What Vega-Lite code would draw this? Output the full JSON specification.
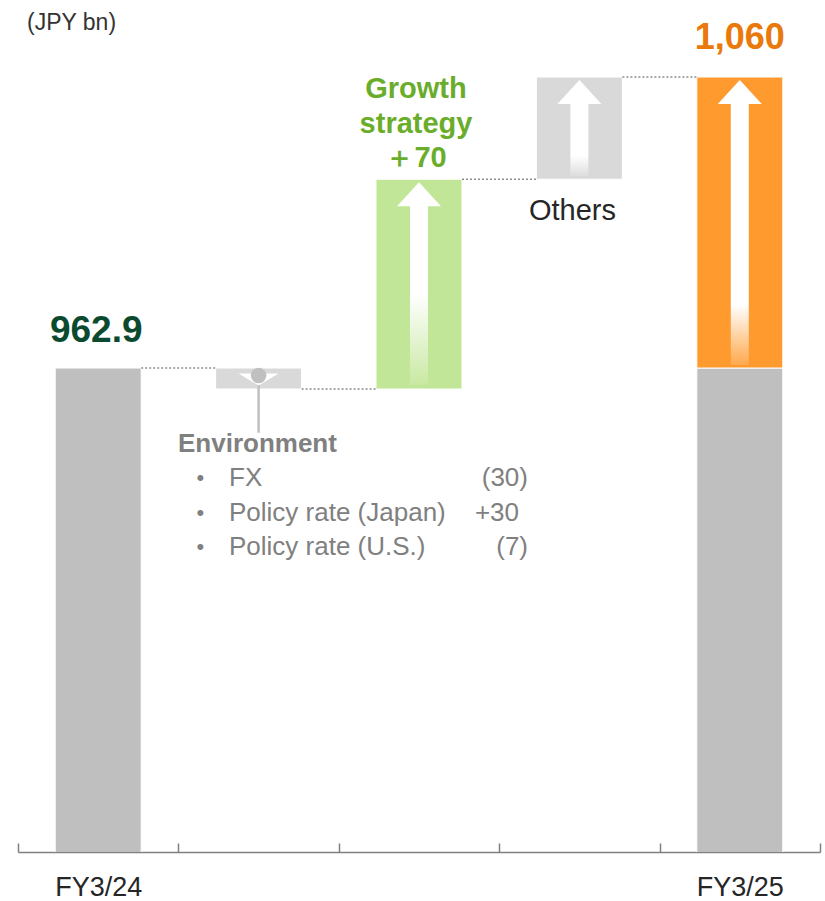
{
  "$schema": "https://vega.github.io/schema/vega-lite/v6.json",
  "width": 802,
  "height": 825,
  "autosize": {"type": "none"},
  "padding": {"left": 18, "top": 27, "right": 5, "bottom": 49},
  "config": {"view": {"stroke": null}, "font": "Liberation Sans", "text": {"font": "Liberation Sans"}},
  "datasets": {
    "steps": [
      {"step": "FY3/24", "kind": "total", "start": 0, "end": 962.9, "label": "962.9"},
      {"step": "Environment", "kind": "env", "start": 962.9, "end": 955.9},
      {"step": "Growth", "kind": "growth", "start": 955.9, "end": 1025.9},
      {"step": "Others", "kind": "others", "start": 1025.9, "end": 1060},
      {"step": "FY3/25", "kind": "base", "start": 0, "end": 962.9},
      {"step": "FY3/25", "kind": "increase", "start": 962.9, "end": 1060, "label": "1,060"}
    ],
    "links": [
      {"from": "FY3/24", "to": "Environment", "level": 962.9},
      {"from": "Environment", "to": "Growth", "level": 955.9},
      {"from": "Growth", "to": "Others", "level": 1025.9},
      {"from": "Others", "to": "FY3/25", "level": 1060}
    ],
    "one": [{}]
  },
  "layer": [
    {
      "data": {"name": "steps"},
      "mark": {"type": "bar", "width": {"band": 0.536}, "stroke": "white", "strokeWidth": 1, "clip": true},
      "encoding": {
        "x": {
          "field": "step", "type": "nominal", "title": null,
          "sort": ["FY3/24", "Environment", "Growth", "Others", "FY3/25"],
          "scale": {"domain": ["FY3/24", "Environment", "Growth", "Others", "FY3/25"], "paddingInner": 0, "paddingOuter": 0},
          "axis": {
            "orient": "bottom", "tickBand": "extent", "labelAngle": 0,
            "domainColor": "#808080", "domainWidth": 1.5,
            "tickColor": "#808080", "tickWidth": 1.5, "tickSize": -9,
            "labelFont": "Liberation Sans", "labelFontSize": 27, "labelColor": "#262626",
            "labelBaseline": "top", "labelPadding": 31,
            "labelExpr": "datum.value == 'FY3/24' || datum.value == 'FY3/25' ? datum.value : ''"
          }
        },
        "y": {"field": "end", "type": "quantitative", "scale": {"domain": [801.4, 1076.7], "zero": false, "nice": false}, "axis": null},
        "y2": {"field": "start"},
        "color": {
          "field": "kind", "type": "nominal", "legend": null,
          "scale": {"domain": ["total", "env", "growth", "others", "base", "increase"], "range": ["#bfbfbf", "#d9d9d9", "#c2e697", "#d9d9d9", "#bfbfbf", "#ff9a2e"]}
        }
      }
    },
    {
      "data": {"name": "links"},
      "mark": {"type": "rule", "color": "#8c8c8c", "strokeWidth": 1.5, "strokeDash": [2, 2]},
      "encoding": {
        "x": {"field": "from", "type": "nominal", "bandPosition": 0.768},
        "x2": {"field": "to", "bandPosition": 0.232},
        "y": {"field": "level", "type": "quantitative"}
      }
    },
    {
      "data": {"name": "steps"},
      "transform": [{"filter": "datum.kind == 'growth'"}],
      "mark": {"type": "bar", "width": 18, "yOffset": 25, "y2Offset": -4,
        "fill": {"gradient": "linear", "x1": 0, "y1": 0, "x2": 0, "y2": 1,
          "stops": [{"offset": 0, "color": "#ffffff"}, {"offset": 0.5, "color": "#ffffff"}, {"offset": 1, "color": "rgba(255,255,255,0.1)"}]}},
      "encoding": {"x": {"field": "step", "type": "nominal"}, "y": {"field": "end", "type": "quantitative"}, "y2": {"field": "start"}}
    },
    {
      "data": {"name": "steps"},
      "transform": [{"filter": "datum.kind == 'others'"}],
      "mark": {"type": "bar", "width": 18, "yOffset": 25, "y2Offset": -3,
        "fill": {"gradient": "linear", "x1": 0, "y1": 0, "x2": 0, "y2": 1,
          "stops": [{"offset": 0, "color": "#ffffff"}, {"offset": 0.72, "color": "#ffffff"}, {"offset": 1, "color": "rgba(255,255,255,0.1)"}]}},
      "encoding": {"x": {"field": "step", "type": "nominal"}, "y": {"field": "end", "type": "quantitative"}, "y2": {"field": "start"}}
    },
    {
      "data": {"name": "steps"},
      "transform": [{"filter": "datum.kind == 'increase'"}],
      "mark": {"type": "bar", "width": 18, "yOffset": 25, "y2Offset": -3,
        "fill": {"gradient": "linear", "x1": 0, "y1": 0, "x2": 0, "y2": 1,
          "stops": [{"offset": 0, "color": "#ffffff"}, {"offset": 0.77, "color": "#ffffff"}, {"offset": 1, "color": "rgba(255,255,255,0.15)"}]}},
      "encoding": {"x": {"field": "step", "type": "nominal"}, "y": {"field": "end", "type": "quantitative"}, "y2": {"field": "start"}}
    },
    {
      "data": {"name": "steps"},
      "transform": [{"filter": "datum.kind == 'growth' || datum.kind == 'others' || datum.kind == 'increase'"}],
      "mark": {"type": "point", "shape": "M0,-0.545L1,0.545L-1,0.545Z", "size": 1936, "filled": true, "fill": "#ffffff", "opacity": 1, "strokeWidth": 0, "yOffset": 15},
      "encoding": {"x": {"field": "step", "type": "nominal"}, "y": {"field": "end", "type": "quantitative"}}
    },
    {
      "data": {"name": "one"},
      "mark": {"type": "rule", "color": "#c0c0c0", "strokeWidth": 2.5},
      "encoding": {"x": {"datum": "Environment"}, "y": {"datum": 959.4}, "y2": {"datum": 941.3}}
    },
    {
      "data": {"name": "one"},
      "mark": {"type": "point", "shape": "M-1,-0.25L1,-0.25L0,0.35Z", "size": 1600, "filled": true, "fill": "#ffffff", "opacity": 1, "strokeWidth": 0, "yOffset": 0},
      "encoding": {"x": {"datum": "Environment"}, "y": {"datum": 959.4}}
    },
    {
      "data": {"name": "one"},
      "mark": {"type": "point", "shape": "circle", "size": 240, "filled": true, "fill": "#c0c0c0", "opacity": 1, "strokeWidth": 0, "yOffset": -3},
      "encoding": {"x": {"datum": "Environment"}, "y": {"datum": 959.4}}
    },
    {
      "data": {"name": "steps"},
      "transform": [{"filter": "datum.kind == 'total'"}],
      "mark": {"type": "text", "font": "Liberation Sans", "fontSize": 37, "fontWeight": "bold", "color": "#0b4a2e", "baseline": "alphabetic", "dy": -26, "dx": -2},
      "encoding": {"x": {"field": "step", "type": "nominal"}, "y": {"field": "end", "type": "quantitative"}, "text": {"field": "label"}}
    },
    {
      "data": {"name": "steps"},
      "transform": [{"filter": "datum.kind == 'increase'"}],
      "mark": {"type": "text", "font": "Liberation Sans", "fontSize": 36, "fontWeight": "bold", "color": "#e8790a", "baseline": "alphabetic", "dy": -28},
      "encoding": {"x": {"field": "step", "type": "nominal"}, "y": {"field": "end", "type": "quantitative"}, "text": {"field": "label"}}
    },
    {
      "data": {"name": "one"},
      "mark": {"type": "text", "text": ["Growth", "strategy", "＋70"], "font": "Liberation Sans", "fontSize": 29, "fontWeight": "bold", "color": "#6aad2b", "baseline": "alphabetic", "lineHeight": 34.5, "dy": -81, "dx": -3},
      "encoding": {"x": {"datum": "Growth"}, "y": {"datum": 1025.9}}
    },
    {
      "data": {"name": "one"},
      "mark": {"type": "text", "text": "Others", "font": "Liberation Sans", "fontSize": 29, "color": "#262626", "baseline": "alphabetic", "dy": 41, "dx": -7},
      "encoding": {"x": {"datum": "Others"}, "y": {"datum": 1025.9}}
    },
    {
      "data": {"name": "one"},
      "mark": {"type": "text", "text": "Environment", "font": "Liberation Sans", "fontSize": 26, "fontWeight": "bold", "color": "#808080", "baseline": "alphabetic", "align": "left", "dy": 63, "dx": -80.6},
      "encoding": {"x": {"datum": "Environment"}, "y": {"datum": 955.9}}
    },
    {
      "data": {"name": "one"},
      "mark": {"type": "text", "text": ["•", "•", "•"], "font": "Liberation Sans", "fontSize": 22, "color": "#808080", "baseline": "alphabetic", "align": "left", "lineHeight": 34.5, "dy": 96, "dx": -62},
      "encoding": {"x": {"datum": "Environment"}, "y": {"datum": 955.9}}
    },
    {
      "data": {"name": "one"},
      "mark": {"type": "text", "text": ["FX", "Policy rate (Japan)", "Policy rate (U.S.)"], "font": "Liberation Sans", "fontSize": 26, "color": "#808080", "baseline": "alphabetic", "align": "left", "lineHeight": 34.5, "dy": 97, "dx": -29.6},
      "encoding": {"x": {"datum": "Environment"}, "y": {"datum": 955.9}}
    },
    {
      "data": {"name": "one"},
      "mark": {"type": "text", "text": "(30)", "font": "Liberation Sans", "fontSize": 26, "color": "#808080", "baseline": "alphabetic", "align": "right", "dy": 97, "dx": 269.4},
      "encoding": {"x": {"datum": "Environment"}, "y": {"datum": 955.9}}
    },
    {
      "data": {"name": "one"},
      "mark": {"type": "text", "text": "+30", "font": "Liberation Sans", "fontSize": 26, "color": "#808080", "baseline": "alphabetic", "align": "right", "dy": 131.5, "dx": 260.4},
      "encoding": {"x": {"datum": "Environment"}, "y": {"datum": 955.9}}
    },
    {
      "data": {"name": "one"},
      "mark": {"type": "text", "text": "(7)", "font": "Liberation Sans", "fontSize": 26, "color": "#808080", "baseline": "alphabetic", "align": "right", "dy": 166, "dx": 269.4},
      "encoding": {"x": {"datum": "Environment"}, "y": {"datum": 955.9}}
    },
    {
      "data": {"name": "one"},
      "mark": {"type": "text", "text": "(JPY bn)", "font": "Liberation Sans", "fontSize": 23, "color": "#333333", "baseline": "alphabetic", "align": "left", "dy": 3, "dx": -71.2},
      "encoding": {"x": {"datum": "FY3/24"}, "y": {"datum": 1076.7}}
    }
  ]
}
